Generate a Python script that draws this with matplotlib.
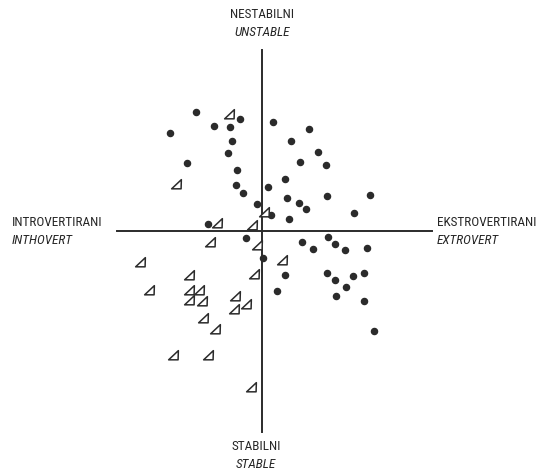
import matplotlib.pyplot as plt
from matplotlib import font_manager
from matplotlib.path import Path

# the scan uses a condensed grotesque; take a narrow face if there is one
installed = {f.name for f in font_manager.fontManager.ttflist}
narrow = next((n for n in ['Liberation Sans Narrow', 'Roboto Condensed',
                           'Open Sans Condensed', 'Arial Narrow'] if n in installed), None)
if narrow:
    plt.rcParams['font.family'] = [narrow, 'DejaVu Sans']
    fs = 9.5
else:
    plt.rcParams['font.family'] = ['Liberation Sans', 'DejaVu Sans']
    fs = 7.5

# extraversion (x) / neuroticism (y) scores, origin at the cross
dot_x = [-6.6, -9.2, -4.8, -3.2, -2.2, -3.0, -3.4, -7.5, -2.5, -2.6, -1.9, -0.5,
         0.9, 0.6, 1.1, -5.4, -1.6, 4.7, 2.9, 5.6, 3.8, 6.4, 2.3, 2.5, 6.5, 10.8,
         3.7, 4.4, 9.2, 2.7, 4.0, 5.1, 6.6, 7.3, 8.3, 10.5, 0.1, 2.3, 1.5, 6.5,
         7.3, 9.1, 10.2, 8.4, 7.4, 10.2, 11.2]
dot_y = [11.9, 9.8, 10.5, 10.4, 11.2, 9.0, 7.8, 6.8, 6.1, 4.6, 3.8, 2.7,
         1.6, 4.4, 10.9, 0.7, -0.7, 10.2, 9.0, 7.9, 6.9, 6.6, 5.2, 3.3, 3.5, 3.6,
         2.8, 2.2, 1.8, 1.2, -1.1, -1.8, -0.6, -1.3, -1.9, -1.7, -2.7, -4.4, -6.0, -4.2,
         -4.9, -4.5, -4.2, -5.6, -6.5, -7.0, -10.0]

tri_x = [-3.3, -8.6, -4.5, -1.0, 0.2, -5.2, -0.5, -12.2, -7.3, -0.8, -11.3, -7.3,
         -6.3, -2.7, -7.3, -6.0, -1.6, -2.8, -5.9, -4.7, -8.9, -5.4, -1.1, 2.0]
tri_y = [11.7, 4.7, 0.8, 0.6, 1.9, -1.1, -1.4, -3.1, -4.4, -4.3, -5.9, -5.9,
         -5.9, -6.5, -6.9, -7.0, -7.3, -7.8, -8.7, -9.8, -12.4, -12.4, -15.6, -2.9]

top_labels = ['NESTABILNI', 'UNSTABLE']
bottom_labels = ['STABILNI', 'STABLE']
left_labels = ['INTROVERTIRANI', 'INTHOVERT']
right_labels = ['EKSTROVERTIRANI', 'EXTROVERT']

ink = '#2b2b2b'
txt = '#262626'
delta = Path([(-0.9, -0.8), (0.85, -0.8), (0.9, 0.9), (-0.9, -0.8)],
             [Path.MOVETO, Path.LINETO, Path.LINETO, Path.CLOSEPOLY])

fig = plt.figure(figsize=(5.38, 4.73), dpi=100)
ax = fig.add_axes([0, 0, 1, 1])
ax.set_xlim(-26.2, 27.6)
ax.set_ylim(-24.2, 23.1)
ax.axis('off')

ax.plot([-14.5, 17.0], [0, 0], color=ink, lw=1.4, zorder=1)
ax.plot([0, 0], [-20.1, 18.1], color=ink, lw=1.4, zorder=1)

ax.plot(dot_x, dot_y, 'o', ms=4.4, color=ink, mec=ink, zorder=3)
ax.plot(tri_x, tri_y, linestyle='none', marker=delta, ms=7, mfc='white',
        mec=ink, mew=1.1, zorder=3)


def pair(x, y, labels, ha):
    ax.text(x, y + 0.9, labels[0], ha=ha, va='center', fontsize=fs, color=txt)
    ax.text(x, y - 0.9, labels[1], ha=ha, va='center', fontsize=fs,
            style='italic', color=txt)


pair(0, 20.7, top_labels, 'center')
pair(-0.6, -22.4, bottom_labels, 'center')
pair(-25.0, 0, left_labels, 'left')
pair(17.5, 0, right_labels, 'left')

fig.savefig('out.png', dpi=100)
